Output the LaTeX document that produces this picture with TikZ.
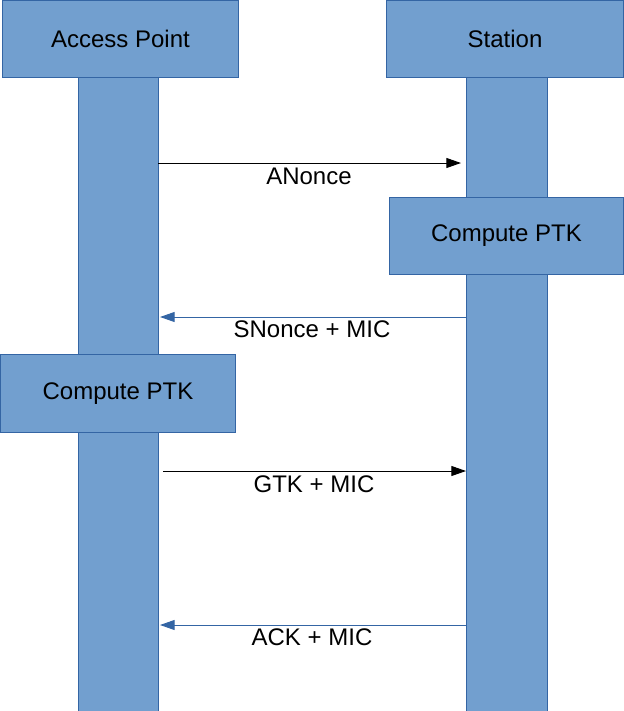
\documentclass[tikz,border=0pt]{standalone}
\usepackage{fontspec}
\setmainfont{Liberation Sans}
\usetikzlibrary{arrows.meta}
\definecolor{boxfill}{HTML}{729FCF}
\definecolor{boxline}{HTML}{3465A4}
\begin{document}
\begin{tikzpicture}[x=0.75pt,y=-0.75pt,
  box/.style={draw=boxline,fill=boxfill,line width=0.75pt,inner sep=0pt,font=\fontsize{18}{21}\selectfont},
  life/.style={draw=boxline,fill=boxfill,line width=0.75pt,inner sep=0pt},
  msg/.style={line width=0.75pt,-{Triangle[length=11pt,width=7.5pt]}},
  lbl/.style={font=\fontsize{18}{21}\selectfont,inner sep=0pt}]
\useasboundingbox (0,0) rectangle (624,711);
% lifelines
\node[life,minimum width=60pt,minimum height=490pt,anchor=north] (apl) at (118,77) {};
\node[life,minimum width=60.75pt,minimum height=490pt,anchor=north] (stl) at (506.5,77) {};
% heads
\node[box,minimum width=177pt,minimum height=57.75pt,anchor=north west] (ap) at (2,0) {Access Point};
\node[box,minimum width=177.75pt,minimum height=57.75pt,anchor=north west] (st) at (386,0) {Station};
% compute boxes
\node[box,minimum width=175.5pt,minimum height=57.75pt,anchor=north west] (cs) at (389,197) {Compute PTK};
\node[box,minimum width=176.25pt,minimum height=58.5pt,anchor=north west] (ca) at (0,354) {Compute PTK};
% message coordinates
\coordinate (a1) at (158,163); \coordinate (b1) at (461,163);
\coordinate (a2) at (160,317); \coordinate (b2) at (466,317);
\coordinate (a3) at (163,471); \coordinate (b3) at (466,471);
\coordinate (a4) at (160,625); \coordinate (b4) at (466,625);
\draw[msg,black] (a1) -- (b1);
\draw[msg,boxline] (b2) -- (a2);
\draw[msg,black] (a3) -- (b3);
\draw[msg,boxline] (b4) -- (a4);
\node[lbl] (l1) at (309,176) {ANonce};
\node[lbl] (l2) at (312,329) {SNonce + MIC};
\node[lbl] (l3) at (314,484) {GTK + MIC};
\node[lbl] (l4) at (312,637) {ACK + MIC};
\end{tikzpicture}
\end{document}
